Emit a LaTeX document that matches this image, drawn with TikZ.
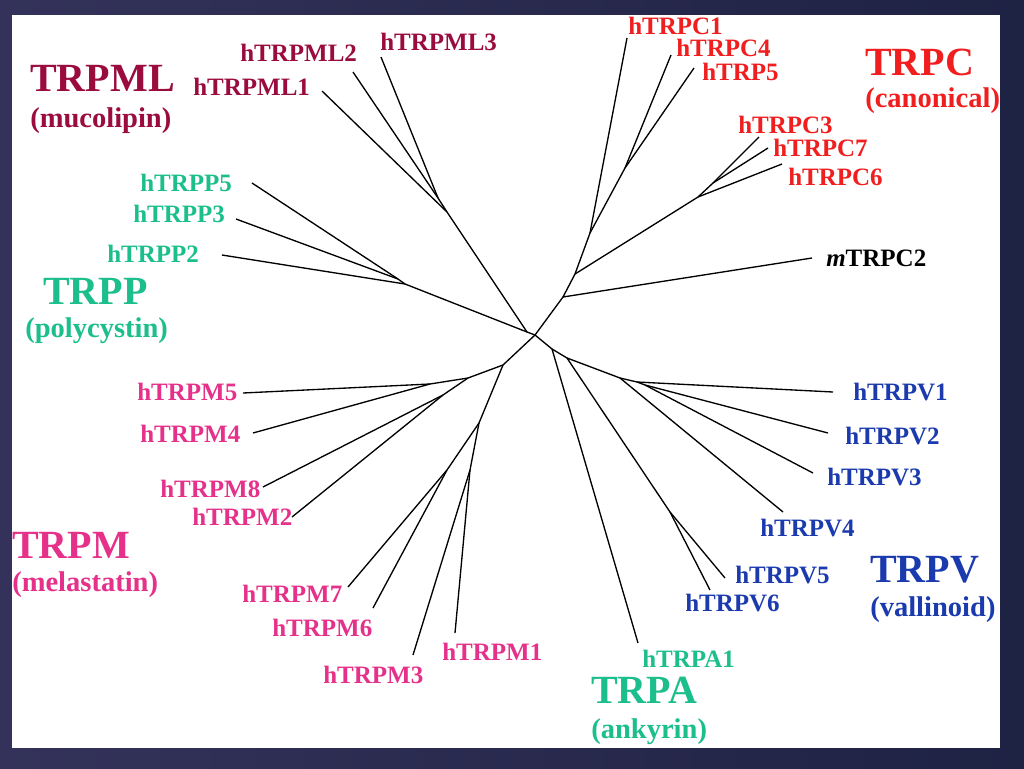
\documentclass[tikz,border=0pt]{standalone}
\usepackage{fontspec}
\setmainfont{Liberation Serif}
\usepackage{xcolor}
\definecolor{mlcol}{HTML}{9A0B3E}
\definecolor{pccol}{HTML}{F01E1E}
\definecolor{ppcol}{HTML}{1CBF8C}
\definecolor{pmcol}{HTML}{E5318A}
\definecolor{pvcol}{HTML}{1A3AAE}
\definecolor{framecol}{HTML}{1E2243}
\definecolor{framelt}{HTML}{34325A}

\tikzset{
  leaf/.style={anchor=west, inner sep=0pt, font=\fontsize{18.75}{20}\selectfont\bfseries},
  family/.style={anchor=west, inner sep=0pt, font=\fontsize{30}{32}\selectfont\bfseries},
  subname/.style={anchor=west, inner sep=0pt, font=\fontsize{21.4}{23}\selectfont\bfseries},
  branch/.style={line width=1pt, black}
}

\begin{document}
\begin{tikzpicture}[x=0.75pt, y=-0.75pt] %unrooted TRP tree
\useasboundingbox (0,0) rectangle (1024,768);
\shade[left color=framelt, right color=framecol] (0,0) rectangle (1024,768);
\fill[white] (12,15) rectangle (1000,748);

% inner junctions
\coordinate (r1) at (527,332);
\coordinate (r2) at (535,335);
% TRPML
\coordinate (ml1) at (447,212);
\coordinate (ml2) at (438,198);
\coordinate (lML1) at (322,91);
\coordinate (lML2) at (353,72);
\coordinate (lML3) at (381,57);
% TRPP
\coordinate (pp1) at (405,284);
\coordinate (pp2) at (398,279);
\coordinate (lP2) at (222,255);
\coordinate (lP3) at (236,219);
\coordinate (lP5) at (252,183);
% TRPC
\coordinate (pc0) at (563,297);
\coordinate (pc1) at (575,274);
\coordinate (pc2) at (698,197);
\coordinate (pc3) at (590,233);
\coordinate (pc4) at (625,168);
\coordinate (pc5) at (713,183);
\coordinate (lmC2) at (812,258);
\coordinate (lC1) at (627,38);
\coordinate (lC4) at (671,55);
\coordinate (lC5) at (694,68);
\coordinate (lC3) at (759,137);
\coordinate (lC7) at (768,148);
\coordinate (lC6) at (782,164);
% TRPM
\coordinate (pm0) at (503,365);
\coordinate (pm1) at (468,378);
\coordinate (pm2) at (430,384);
\coordinate (pm3) at (443,395);
\coordinate (pm4) at (479,423);
\coordinate (pm5) at (447,470);
\coordinate (pm6) at (470,470);
\coordinate (lM5) at (243,393);
\coordinate (lM4) at (253,433);
\coordinate (lM8) at (263,487);
\coordinate (lM2) at (292,517);
\coordinate (lM7) at (348,587);
\coordinate (lM6) at (373,608);
\coordinate (lM3) at (413,655);
\coordinate (lM1) at (455,633);
% TRPA / TRPV
\coordinate (pa0) at (552,349);
\coordinate (pv0) at (567,358);
\coordinate (pv1) at (670,512);
\coordinate (pv2) at (620,378);
\coordinate (pv3) at (637,382);
\coordinate (pv4) at (645,385);
\coordinate (lA1) at (638,643);
\coordinate (lV1) at (833,392);
\coordinate (lV2) at (828,433);
\coordinate (lV3) at (813,473);
\coordinate (lV4) at (783,512);
\coordinate (lV5) at (725,578);
\coordinate (lV6) at (710,590);

% branches
\draw[branch] (r1) -- (r2);
\draw[branch] (r1) -- (ml1) -- (lML1);
\draw[branch] (ml1) -- (ml2) -- (lML2);
\draw[branch] (ml2) -- (lML3);
\draw[branch] (r1) -- (pp1) -- (lP2);
\draw[branch] (pp1) -- (pp2) -- (lP3);
\draw[branch] (pp2) -- (lP5);
\draw[branch] (r2) -- (pc0) -- (lmC2);
\draw[branch] (pc0) -- (pc1) -- (pc3) -- (lC1);
\draw[branch] (pc3) -- (pc4) -- (lC4);
\draw[branch] (pc4) -- (lC5);
\draw[branch] (pc1) -- (pc2) -- (lC6);
\draw[branch] (pc2) -- (pc5) -- (lC3);
\draw[branch] (pc5) -- (lC7);
\draw[branch] (r2) -- (pm0) -- (pm1) -- (pm2) -- (lM5);
\draw[branch] (pm2) -- (lM4);
\draw[branch] (pm1) -- (pm3) -- (lM8);
\draw[branch] (pm3) -- (lM2);
\draw[branch] (pm0) -- (pm4) -- (pm5) -- (lM7);
\draw[branch] (pm5) -- (lM6);
\draw[branch] (pm4) -- (pm6) -- (lM3);
\draw[branch] (pm6) -- (lM1);
\draw[branch] (r2) -- (pa0) -- (lA1);
\draw[branch] (pa0) -- (pv0) -- (pv1) -- (lV5);
\draw[branch] (pv1) -- (lV6);
\draw[branch] (pv0) -- (pv2) -- (lV4);
\draw[branch] (pv2) -- (pv3) -- (lV1);
\draw[branch] (pv3) -- (pv4) -- (lV2);
\draw[branch] (pv4) -- (lV3);

% leaf names
\node[leaf, mlcol] (nML1) at (193,87) {hTRPML1};
\node[leaf, mlcol] (nML2) at (240,53) {hTRPML2};
\node[leaf, mlcol] (nML3) at (380,42) {hTRPML3};
\node[leaf, pccol] (nC1) at (628,26) {hTRPC1};
\node[leaf, pccol] (nC4) at (676,48) {hTRPC4};
\node[leaf, pccol] (nC5) at (702,72) {hTRP5};
\node[leaf, pccol] (nC3) at (738,125) {hTRPC3};
\node[leaf, pccol] (nC7) at (773,148) {hTRPC7};
\node[leaf, pccol] (nC6) at (788,177) {hTRPC6};
\node[leaf, black] (nmC2) at (826,258) {\textit{m}TRPC2};
\node[leaf, ppcol] (nP5) at (140,183) {hTRPP5};
\node[leaf, ppcol] (nP3) at (133,214) {hTRPP3};
\node[leaf, ppcol] (nP2) at (107,254) {hTRPP2};
\node[leaf, pmcol] (nM5) at (137,392) {hTRPM5};
\node[leaf, pmcol] (nM4) at (140,434) {hTRPM4};
\node[leaf, pmcol] (nM8) at (160,489) {hTRPM8};
\node[leaf, pmcol] (nM2) at (192,517) {hTRPM2};
\node[leaf, pmcol] (nM7) at (242,594) {hTRPM7};
\node[leaf, pmcol] (nM6) at (272,628) {hTRPM6};
\node[leaf, pmcol] (nM3) at (323,675) {hTRPM3};
\node[leaf, pmcol] (nM1) at (442,652) {hTRPM1};
\node[leaf, ppcol] (nA1) at (642,659) {hTRPA1};
\node[leaf, pvcol] (nV1) at (853,392) {hTRPV1};
\node[leaf, pvcol] (nV2) at (845,436) {hTRPV2};
\node[leaf, pvcol] (nV3) at (827,477) {hTRPV3};
\node[leaf, pvcol] (nV4) at (760,528) {hTRPV4};
\node[leaf, pvcol] (nV5) at (735,575) {hTRPV5};
\node[leaf, pvcol] (nV6) at (685,603) {hTRPV6};

% family names
\node[family, mlcol] (fML) at (30,78) {TRPML};
\node[subname, mlcol] (sML) at (30,121) {(mucolipin)};
\node[family, pccol] (fC) at (865,62) {TRPC};
\node[subname, pccol] (sC) at (865,101) {(canonical)};
\node[family, ppcol] (fP) at (43,291) {TRPP};
\node[subname, ppcol] (sP) at (25,331) {(polycystin)};
\node[family, pmcol] (fM) at (12,545) {TRPM};
\node[subname, pmcol] (sM) at (12,585) {(melastatin)};
\node[family, ppcol] (fA) at (591,690) {TRPA};
\node[subname, ppcol] (sA) at (591,732) {(ankyrin)};
\node[family, pvcol] (fV) at (870,570) {TRPV};
\node[subname, pvcol] (sV) at (870,610) {(vallinoid)};
\end{tikzpicture}
\end{document}
